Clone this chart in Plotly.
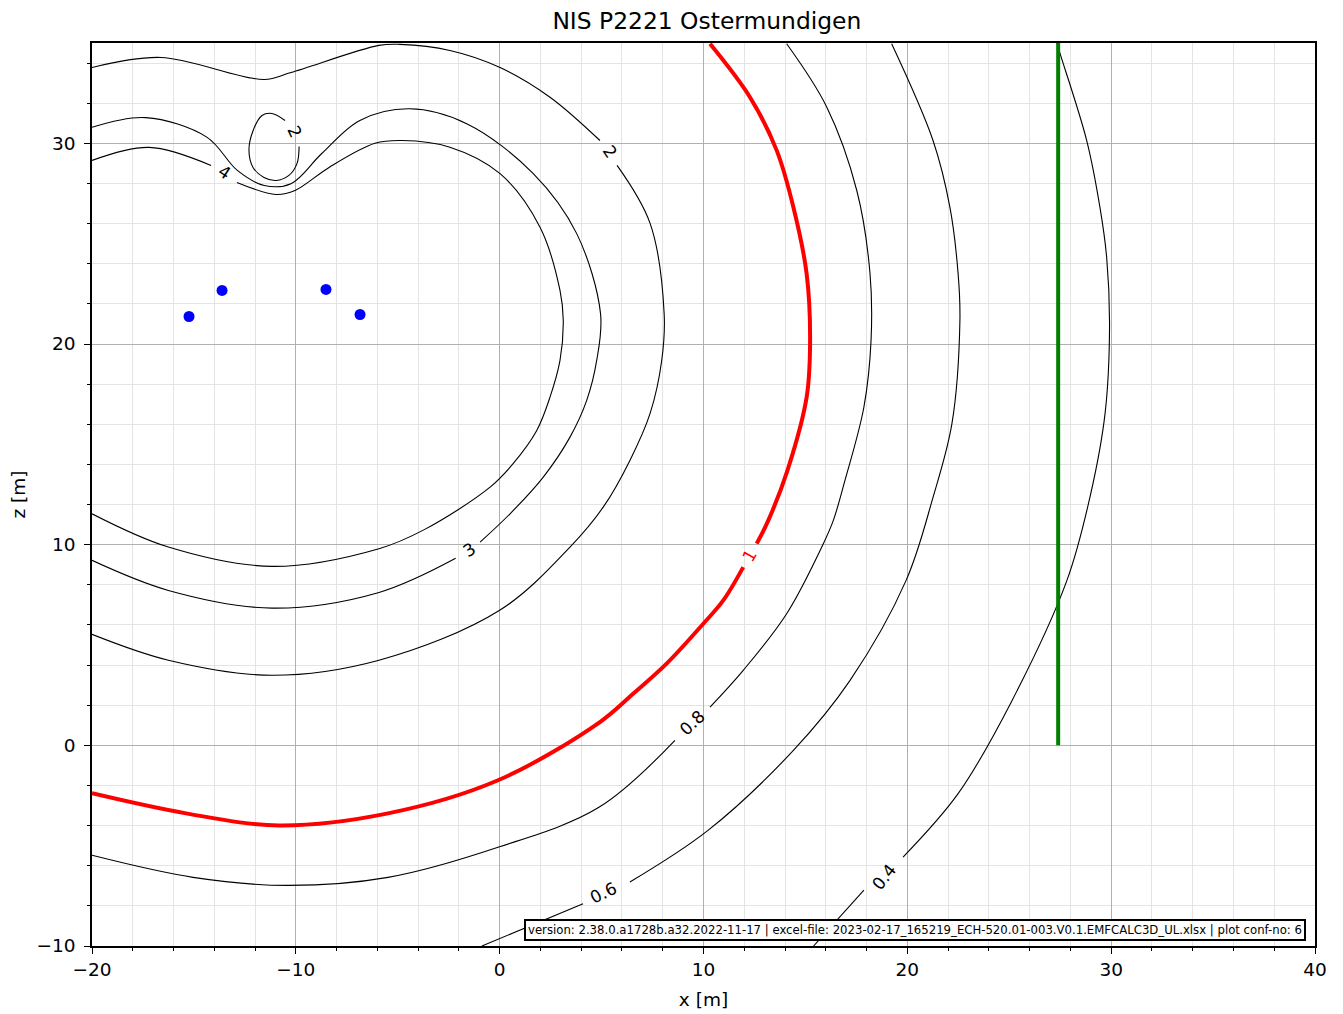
import plotly.graph_objects as go

# ---------------- data ----------------
# conductor positions
cond_x = [-15.24, -13.62, -8.52, -6.85]
cond_z = [21.37, 22.67, 22.72, 21.47]

# evaluation line (green)
line_x = [27.4, 27.4]
line_z = [0.0, 35.0]

# contour level 4 (None = gap for the label)
c4_x = [-20.0, -17.20, -14.16, None, -12.89, -10.97, -10.04, -8.37, -6.12, -4.79, -2.44, 0.02, 1.98, 2.96,
        3.12, 2.96, 2.47, 1.82, 0.67, -0.47, -3.70, -5.92, -11.17, -16.25, -20.0]
c4_z = [29.15, 29.80, 28.90, None, 28.05, 27.45, 27.65, 28.80, 30.00, 30.14, 29.81, 28.49, 25.82, 22.67,
        21.18, 19.18, 17.35, 15.69, 14.05, 12.87, 10.75, 9.80, 8.92, 9.88, 11.54]

# contour level 3
c3_x = [-20.0, -17.37, -14.37, -12.87, -11.55, -10.24, -8.74, -6.86, -4.42, -1.62, 1.65, 3.78,
        4.95, 4.76, 4.27, 3.45, 2.14, 0.51, -0.96, None, -2.16, -5.92, -11.17, -16.25, -20.0]
c3_z = [30.80, 31.28, 30.31, 28.65, 27.90, 27.99, 29.48, 31.14, 31.72, 30.98, 28.49, 25.50,
        21.50, 19.18, 17.19, 15.36, 13.37, 11.54, 10.13, None, 9.32, 7.62, 6.84, 7.72, 9.22]

# contour level 2 (outer)
c2_x = [-20.0, -16.61, -11.56, -10.24, -5.92, -4.89, -2.44, 0.02, 2.47, 4.92, None, 5.76, 7.38,
        8.07, 7.95, 7.38, 6.39, 5.08, 3.45, 0.00, -5.92, -11.17, -16.25, -20.0]
c2_z = [33.78, 34.28, 33.18, 33.53, 34.88, 34.93, 34.63, 33.78, 32.30, 30.14, None, 28.90, 26.01,
        21.50, 19.18, 16.54, 14.20, 11.87, 9.88, 6.73, 4.24, 3.49, 4.24, 5.53]

# contour level 2 (small loop between conductors)
c2b_x = [-10.53, -11.17, -11.66, -12.10, -12.30, -12.10, -11.56, -10.97, -10.34, -9.94, -9.84]
c2b_z = [31.14, 31.49, 31.39, 30.63, 29.65, 28.80, 28.30, 28.15, 28.40, 29.00, 29.84]

# contour level 1 (red)
c1_x = [10.32, 12.28, 13.59, 14.41, 15.06, 15.23, 15.06, 14.12, 13.18, 12.61, None, 11.95, 10.97, 9.99,
        8.19, 6.56, 4.92, -0.08, -5.48, -10.83, -15.39, -20.0]
c1_z = [34.96, 32.30, 29.65, 26.82, 23.50, 20.18, 17.35, 13.70, 11.21, 10.05, None, 8.88, 7.22, 6.06,
        4.07, 2.58, 1.16, -1.74, -3.39, -3.99, -3.39, -2.39]

# contour level 0.8
c08_x = [14.08, 16.05, 17.52, 18.17, 18.22, 17.87, 16.94, 16.37, 15.88, 14.08, 11.95, 10.32, None,
         8.60, 4.87, -0.08, -5.48, -10.43, -15.04, -20.0]
c08_z = [34.96, 31.80, 27.65, 23.50, 20.18, 16.86, 13.20, 11.21, 10.05, 6.56, 3.74, 1.91, None,
         0.25, -3.09, -5.08, -6.58, -6.98, -6.58, -5.48]

# contour level 0.6
c06_x = [19.23, 21.26, 22.09, 22.49, 22.58, 22.19, 21.26, 19.94, 17.19, 14.41, 10.22, 6.39, None,
         4.09, -0.87]
c06_z = [34.96, 30.14, 26.81, 23.52, 21.18, 16.04, 12.36, 8.22, 3.24, -0.25, -4.24, -6.81, None,
         -7.89, -10.0]

# contour level 0.4
c04_x = [27.34, 27.49, 28.80, 29.45, 29.78, 29.92, 29.70, 28.96, 27.83, 25.14, 22.49, 19.79, None,
         17.87, 15.40]
c04_z = [34.98, 34.48, 30.14, 26.81, 24.31, 20.90, 16.53, 12.37, 8.22, 2.24, -2.41, -5.57, None,
         -7.22, -10.0]

# contour labels: text, x, z, angle
lab_text = ["4", "2", "2", "3", "1", "0.8", "0.6", "0.4"]
lab_x = [-13.52, -10.09, 5.41, -1.50, 12.28, 9.44, 5.07, 18.86]
lab_z = [28.55, 30.59, 29.55, 9.72, 9.47, 1.10, -7.37, -6.58]
lab_angle = [33, 65, 56, -33, -60, -43, -26, -52]
lab_color = ["black", "black", "black", "black", "red", "black", "black", "black"]

x_ticks = [-20, -10, 0, 10, 20, 30, 40]
z_ticks = [-10, 0, 10, 20, 30]

title = "NIS P2221 Ostermundigen"
footer = ("version: 2.38.0.a1728b.a32.2022-11-17 | excel-file: "
          "2023-02-17_165219_ECH-520.01-003.V0.1.EMFCALC3D_UL.xlsx | plot conf-no: 6")

# ---------------- figure ----------------
FONT = "DejaVu Sans"
fig = go.Figure()

black_lines = [(c4_x, c4_z), (c3_x, c3_z), (c2_x, c2_z), (c2b_x, c2b_z),
               (c08_x, c08_z), (c06_x, c06_z), (c04_x, c04_z)]
for xs, zs in black_lines:
    fig.add_trace(go.Scatter(x=xs, y=zs, mode="lines",
                             line=dict(color="black", width=1.1, shape="spline", smoothing=1.0),
                             connectgaps=False, hoverinfo="skip", showlegend=False))

fig.add_trace(go.Scatter(x=c1_x, y=c1_z, mode="lines",
                         line=dict(color="red", width=4, shape="spline", smoothing=1.0),
                         connectgaps=False, showlegend=False))

fig.add_trace(go.Scatter(x=line_x, y=line_z, mode="lines",
                         line=dict(color="green", width=4), showlegend=False))

fig.add_trace(go.Scatter(x=cond_x, y=cond_z, mode="markers",
                         marker=dict(color="blue", size=11), showlegend=False))

for t, x, z, a, c in zip(lab_text, lab_x, lab_z, lab_angle, lab_color):
    fig.add_annotation(x=x, y=z, text=t, showarrow=False, textangle=a,
                       font=dict(family=FONT, size=17, color=c))

fig.add_annotation(xref="paper", yref="paper", x=0.9926, y=0.0055,
                   xanchor="right", yanchor="bottom", text=footer, showarrow=False,
                   font=dict(family=FONT, size=11.7, color="black"),
                   bgcolor="white", bordercolor="black", borderwidth=2, borderpad=2)

axis_common = dict(
    showline=True, linecolor="black", linewidth=1.5, mirror=True,
    ticks="outside", ticklen=6, tickwidth=1.4, tickcolor="black",
    showgrid=True, gridcolor="#b0b0b0", gridwidth=1.3,
    zeroline=False, automargin=False,
    tickfont=dict(family=FONT, size=18.5, color="black"),
)

fig.update_xaxes(range=[-20, 40], tickmode="array", tickvals=x_ticks, **axis_common,
                 minor=dict(dtick=2, ticks="outside", ticklen=3.5, tickcolor="black",
                            showgrid=True, gridcolor="#e4e4e4", gridwidth=1),
                 title=dict(text="x [m]", font=dict(family=FONT, size=18.5, color="black"), standoff=14))
fig.update_yaxes(range=[-10, 35], tickmode="array", tickvals=z_ticks, **axis_common,
                 ticklabelstandoff=5,
                 minor=dict(dtick=2, ticks="outside", ticklen=3.5, tickcolor="black",
                            showgrid=True, gridcolor="#e4e4e4", gridwidth=1),
                 title=dict(text="z [m]", font=dict(family=FONT, size=18.5, color="black"), standoff=14))

fig.update_layout(
    width=1335, height=1006,
    margin=dict(l=84, r=28, t=35, b=68),
    paper_bgcolor="white", plot_bgcolor="white",
    title=dict(text=title, x=0.5235, xanchor="center", xref="container",
               y=0.987, yanchor="middle", yref="container",
               font=dict(family=FONT, size=23.4, color="black")),
    showlegend=False,
)

fig.write_html("out.html")
